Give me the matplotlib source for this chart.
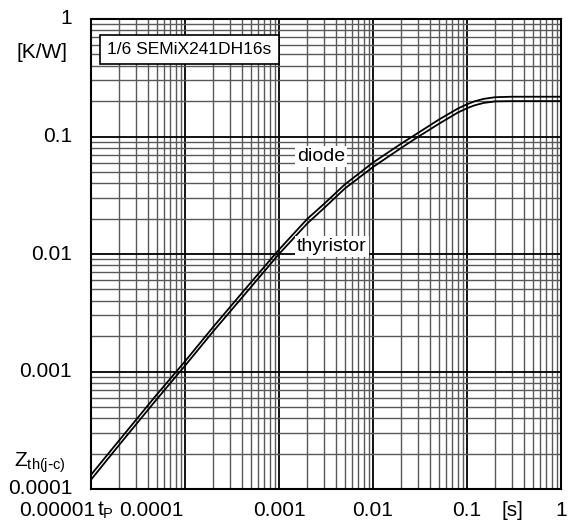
import matplotlib.pyplot as plt
from matplotlib.ticker import LogLocator

plt.rcParams['font.family'] = ['Liberation Sans', 'DejaVu Sans']
plt.rcParams['mathtext.default'] = 'regular'

# Zth(j-c) curves
t = [1e-5, 2e-5, 5e-5, 1e-4, 2e-4, 5e-4, 1e-3, 2e-3, 3e-3, 5e-3, 1e-2, 2e-2, 3e-2, 5e-2, 0.08,
     0.1, 0.12, 0.15, 0.2, 0.3, 1]
z_thyr = [1.20e-4, 2.38e-4, 5.8e-4, 1.12e-3, 2.2e-3, 5.2e-3, 0.0100, 0.0182, 0.0245, 0.036, 0.055,
          0.080, 0.099, 0.128, 0.160, 0.174, 0.184, 0.193, 0.199, 0.200, 0.200]
z_diode = [1.32e-4, 2.6e-4, 6.35e-4, 1.22e-3, 2.4e-3, 5.7e-3, 0.0109, 0.0199, 0.0266, 0.039, 0.060,
           0.087, 0.107, 0.139, 0.173, 0.188, 0.199, 0.209, 0.216, 0.218, 0.218]

x_ticks = [1e-5, 1e-4, 1e-3, 1e-2, 0.1, 1]
x_labels = ["0.00001", "0.0001", "0.001", "0.01", "0.1", "1"]
y_ticks = [1e-4, 1e-3, 1e-2, 0.1, 1]
y_labels = ["0.0001", "0.001", "0.01", "0.1", "1"]

fig = plt.figure(figsize=(5.71, 5.26), dpi=100)
ax = fig.add_axes([91/571, 37/526, 470/571, 470/526])

ax.set_xscale('log')
ax.set_yscale('log')
ax.set_xlim(1e-5, 1)
ax.set_ylim(1e-4, 1)

ax.xaxis.set_minor_locator(LogLocator(base=10, subs=range(2, 10)))
ax.yaxis.set_minor_locator(LogLocator(base=10, subs=range(2, 10)))
ax.grid(True, which='major', color='black', lw=1.3)
ax.grid(True, which='minor', color='0.35', lw=1.0)
ax.set_axisbelow(True)
ax.tick_params(which='both', length=0, labelbottom=False, labelleft=False)
for s in ax.spines.values():
    s.set_linewidth(1.5)

ax.plot(t, z_diode, color='black', lw=1.3, zorder=3)
ax.plot(t, z_thyr, color='black', lw=1.3, zorder=3)

fs = 15
# x labels (some are shifted like in the datasheet)
x_off = [3, -24, 0, 0, 0, 0]
x_ha = ['right', 'center', 'center', 'center', 'center', 'center']
for v, lab, off, ha in zip(x_ticks, x_labels, x_off, x_ha):
    ax.annotate(lab, xy=(v, 0), xycoords=('data', 'axes fraction'),
                xytext=(off, -15.5), textcoords='offset points',
                ha=ha, va='center', fontsize=fs)
ax.annotate("t$_{P}$", xy=(1e-5, 0), xycoords=('data', 'axes fraction'),
            xytext=(4, -15.5), textcoords='offset points', ha='left', va='center', fontsize=fs)
ax.annotate("[s]", xy=(1, 0), xycoords=('data', 'axes fraction'),
            xytext=(-35, -15.5), textcoords='offset points', ha='center', va='center', fontsize=fs)

for v, lab in zip(y_ticks, y_labels):
    ax.annotate(lab, xy=(0, v), xycoords=('axes fraction', 'data'),
                xytext=(-13.5, 0), textcoords='offset points',
                ha='right', va='center', fontsize=fs)
ax.annotate("[K/W]", xy=(0, 1), xycoords=('axes fraction', 'data'),
            xytext=(-17, -24), textcoords='offset points', ha='right', va='center', fontsize=fs)
ax.annotate(r"Z$_{th(j\text{-}c)}$", xy=(0, 1e-4), xycoords=('axes fraction', 'data'),
            xytext=(-18, 19), textcoords='offset points', ha='right', va='center', fontsize=fs)

ax.text(0.034, 0.935, "1/6 SEMiX241DH16s", transform=ax.transAxes, fontsize=12.5,
        ha='left', va='center', zorder=5,
        bbox=dict(boxstyle='square,pad=0.42', fc='white', ec='black', lw=1.2))

ax.text(0.00155, 0.067, "diode", fontsize=14, ha='left', va='center', zorder=4,
        bbox=dict(boxstyle='square,pad=0.1', fc='white', ec='none'))
ax.text(0.00155, 0.0115, "thyristor", fontsize=14, ha='left', va='center', zorder=4,
        bbox=dict(boxstyle='square,pad=0.1', fc='white', ec='none'))

fig.savefig("out.png", dpi=100)
